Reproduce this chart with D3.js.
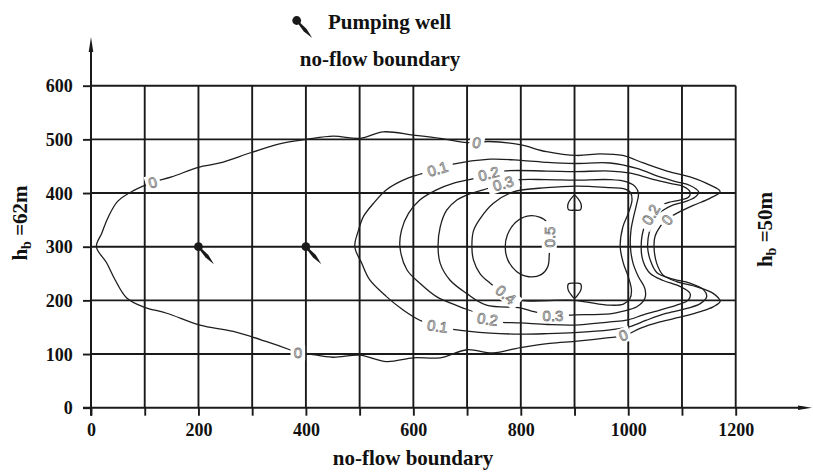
<!DOCTYPE html>
<html><head><meta charset="utf-8">
<script src="https://cdn.jsdelivr.net/npm/d3@7"></script>
<style>
body{margin:0;background:#fff;}
svg{display:block;}
.t{font-family:"Liberation Serif","Times New Roman",serif;font-weight:bold;fill:#111;}
</style></head><body>
<svg id="c" width="813" height="472"></svg>
<script>
// ---- data ----
const xTicks = [0,100,200,300,400,500,600,700,800,900,1000,1100,1200];
const xTickLabels = [0,200,400,600,800,1000,1200];
const yTicks = [0,100,200,300,400,500,600];
const wells = [[200,300],[400,300]];

const c0 = [[10,300],[20,325],[32,355],[50,385],[80,405],[115,420],[150,430],[200,448],[240,456],[300,476],[357,493],[401,500],[451,506],[501,502],[544,514],[600,508],[650,502],[700,494],[740,496],[798,490],[848,477],[904,470],[948,473],[990,470],[1028,456],[1072,441],[1115,430],[1146,418],[1171,403],[1152,390],[1121,377],[1090,362],[1070,350],[1059,337],[1050,320],[1048,300],[1053,269],[1065,247],[1090,235],[1128,225],[1158,213],[1171,198],[1158,188],[1134,179],[1102,170],[1059,160],[1022,148],[995,135],[960,130],[905,124],[854,120],[799,112],[748,102],[700,108],[650,93],[600,93],[550,86],[500,98],[450,94],[401,101],[385,102],[370,108],[327,123],[265,142],[203,154],[141,176],[97,188],[66,205],[45,238],[29,270]];
const c1 = [[491,300],[498,331],[507,356],[526,381],[550,406],[581,424],[612,435],[645,445],[674,454],[743,463],[800,461],[850,457],[900,455],[966,456],[1016,446],[1059,430],[1090,421],[1115,414],[1131,402],[1124,392],[1106,384],[1084,378],[1065,368],[1050,356],[1040,331],[1036,300],[1041,275],[1053,252],[1078,241],[1115,232],[1140,220],[1146,207],[1134,194],[1109,185],[1072,176],[1034,163],[1003,151],[966,145],[900,140],[850,138],[799,137],[743,139],[674,146],[645,152],[612,163],[581,182],[550,207],[519,238],[504,269]];
const c2 = [[575,300],[578,331],[591,362],[612,387],[643,406],[674,418],[712,427],[740,434],[768,441],[848,441],[900,440],[966,441],[1004,437],[1041,427],[1078,418],[1103,412],[1115,402],[1112,392],[1096,387],[1068,380],[1045,362],[1030,337],[1024,300],[1028,272],[1041,250],[1065,237],[1096,226],[1115,213],[1112,201],[1090,191],[1059,182],[1028,173],[997,163],[966,160],[901,154],[850,155],[800,158],[755,160],[735,165],[718,176],[687,188],[643,207],[612,232],[588,257]];
const c3 = [[646,300],[650,337],[662,368],[681,387],[706,399],[730,406],[765,416],[789,424],[848,425],[900,424],[966,425],[997,421],[1013,412],[1019,399],[1016,381],[1010,356],[1005,330],[1004,300],[1009,269],[1019,244],[1031,222],[1031,204],[1016,188],[991,180],[966,175],[900,173],[860,172],[820,180],[799,186],[736,191],[699,213],[668,238],[650,269]];
const c4 = [[709,300],[712,330],[724,352],[749,381],[786,402],[848,410],[904,413],[966,410],[991,408],[1004,401],[1007,387],[1000,362],[990,337],[985,300],[991,269],[1000,244],[1006,219],[1003,203],[991,193],[966,191],[898,200],[800,200],[772,211],[743,232],[724,250],[712,275]];
const c5 = [[848,346],[835,355],[812,357],[790,345],[775,322],[771,300],[776,275],[792,254],[815,244],[838,248],[850,262],[853,285],[853,318]];
const c5a = [[900,396],[906,390],[912,380],[911,369],[900,368],[889,369],[888,380],[894,390]];
const c5b = [[900,204],[906,210],[912,220],[911,231],[900,232],[889,231],[888,220],[894,210]];
const contourLines = [c0,c1,c2,c3,c4,c5,c5a,c5b];

const labelText  = ["0","0","0.1","0.2","0.3","0.5","0.4","0.3","0.2","0.1","0","0","0.2","0"];
const labelX     = [115,718,645,740,767,853,772,860,738,645,385,991,1042,1072];
const labelY     = [420,494,445,436,418,318,211,172,165,152,102,135,360,350];
const labelAngle = [-17,12,-17,-14,-17,-90,40,0,8,8,0,-20,-60,-50];

// ---- drawing ----
const svg = d3.select("#c");
const x = d3.scaleLinear().domain([0,1200]).range([91,735.7]);
const y = d3.scaleLinear().domain([0,600]).range([407.7,85.7]);
const ink = "#1a1a1a";

// grid
svg.append("g").selectAll("line").data(yTicks.slice(1)).join("line")
  .attr("x1",x(0)).attr("x2",x(1200)).attr("y1",d=>y(d)).attr("y2",d=>y(d))
  .attr("stroke",ink).attr("stroke-width",1.9);
svg.append("g").selectAll("line").data(xTicks.slice(1)).join("line")
  .attr("y1",y(0)).attr("y2",y(600)).attr("x1",d=>x(d)).attr("x2",d=>x(d))
  .attr("stroke",ink).attr("stroke-width",1.9);

// contours
const line = d3.line().x(d=>x(d[0])).y(d=>y(d[1])).curve(d3.curveCatmullRomClosed.alpha(0.5));
svg.append("g").selectAll("path").data(contourLines).join("path")
  .attr("d",line).attr("fill","none").attr("stroke","#1e1e1e").attr("stroke-width",1.3);

// contour labels
const lg = svg.append("g").selectAll("g").data(labelText).join("g")
  .attr("transform",(d,i)=>`translate(${x(labelX[i])},${y(labelY[i])}) rotate(${labelAngle[i]})`);
lg.append("rect").attr("x",d=>-(d.length*4.3+3)).attr("y",-7.5)
  .attr("width",d=>2*(d.length*4.3+3)).attr("height",15).attr("fill","#fff");
lg.append("text").text(d=>d).attr("text-anchor","middle").attr("dy","0.36em")
  .attr("font-family","Liberation Sans, Arial, sans-serif").attr("font-size",15)
  .attr("fill","#fff").attr("stroke","#7a7a7a").attr("stroke-width",0.8);

// axes
const xa = svg.append("g").attr("transform",`translate(0,${y(0)})`)
  .call(d3.axisBottom(x).tickValues(xTicks).tickSize(8).tickFormat(d=>xTickLabels.includes(d)?d:""));
const ya = svg.append("g").attr("transform",`translate(${x(0)},0)`)
  .call(d3.axisLeft(y).tickValues(yTicks).tickSize(8));
[xa,ya].forEach(a=>{a.select(".domain").remove();a.selectAll("line").attr("stroke",ink).attr("stroke-width",1.9);});
xa.selectAll("text").attr("class","t").attr("font-size",18).attr("y",28.3).attr("dy",0);
ya.selectAll("text").attr("class","t").attr("font-size",18).attr("x",-18.3).attr("dy","0.34em");

svg.append("line").attr("x1",x(0)).attr("x2",x(0)).attr("y1",y(0)+8).attr("y2",44)
  .attr("stroke",ink).attr("stroke-width",2);
svg.append("path").attr("d",`M${x(0)-2.3},52 L${x(0)},37 L${x(0)+2.3},52 Z`).attr("fill",ink);
svg.append("line").attr("x1",x(0)-8).attr("x2",804).attr("y1",y(0)).attr("y2",y(0))
  .attr("stroke",ink).attr("stroke-width",2);
svg.append("path").attr("d",`M798,${y(0)-2.3} L812,${y(0)} L798,${y(0)+2.3} Z`).attr("fill",ink);

// wells
function well(g,cx,cy){
  g.append("circle").attr("cx",cx).attr("cy",cy).attr("r",4.4).attr("fill",ink);
  const L = 23.4, dx = 0.663, dy = 0.749, px = -0.749, py = 0.663;
  const pt = (t,w)=>[cx+dx*t+px*w, cy+dy*t+py*w];
  const pts = [pt(0,0.8),pt(L*0.55,1.9),pt(L,0),pt(L*0.55,-1.9),pt(0,-0.8)];
  g.append("path").attr("d","M"+pts.map(p=>p.join(",")).join("L")+"Z").attr("fill",ink);
}
const wg = svg.append("g");
wells.forEach(w=>well(wg,x(w[0]),y(w[1])));
well(wg,296.7,20.5);

// texts
svg.append("text").attr("class","t").attr("font-size",21).attr("x",328).attr("y",28.5).text("Pumping well");
svg.append("text").attr("class","t").attr("font-size",21).attr("x",380).attr("y",65.5).attr("text-anchor","middle").text("no-flow boundary");
svg.append("text").attr("class","t").attr("font-size",21).attr("x",413).attr("y",465).attr("text-anchor","middle").text("no-flow boundary");
function hb(cx,cy,val){
  const t = svg.append("text").attr("class","t").attr("font-size",21)
    .attr("transform",`translate(${cx},${cy}) rotate(-90)`).attr("text-anchor","middle");
  t.append("tspan").text("h");
  t.append("tspan").attr("font-size",14).attr("dy",4).text("b");
  t.append("tspan").attr("dy",-4).text(" ="+val);
}
hb(27,223,"62m");
hb(772,229.5,"50m");
</script>
</body></html>
